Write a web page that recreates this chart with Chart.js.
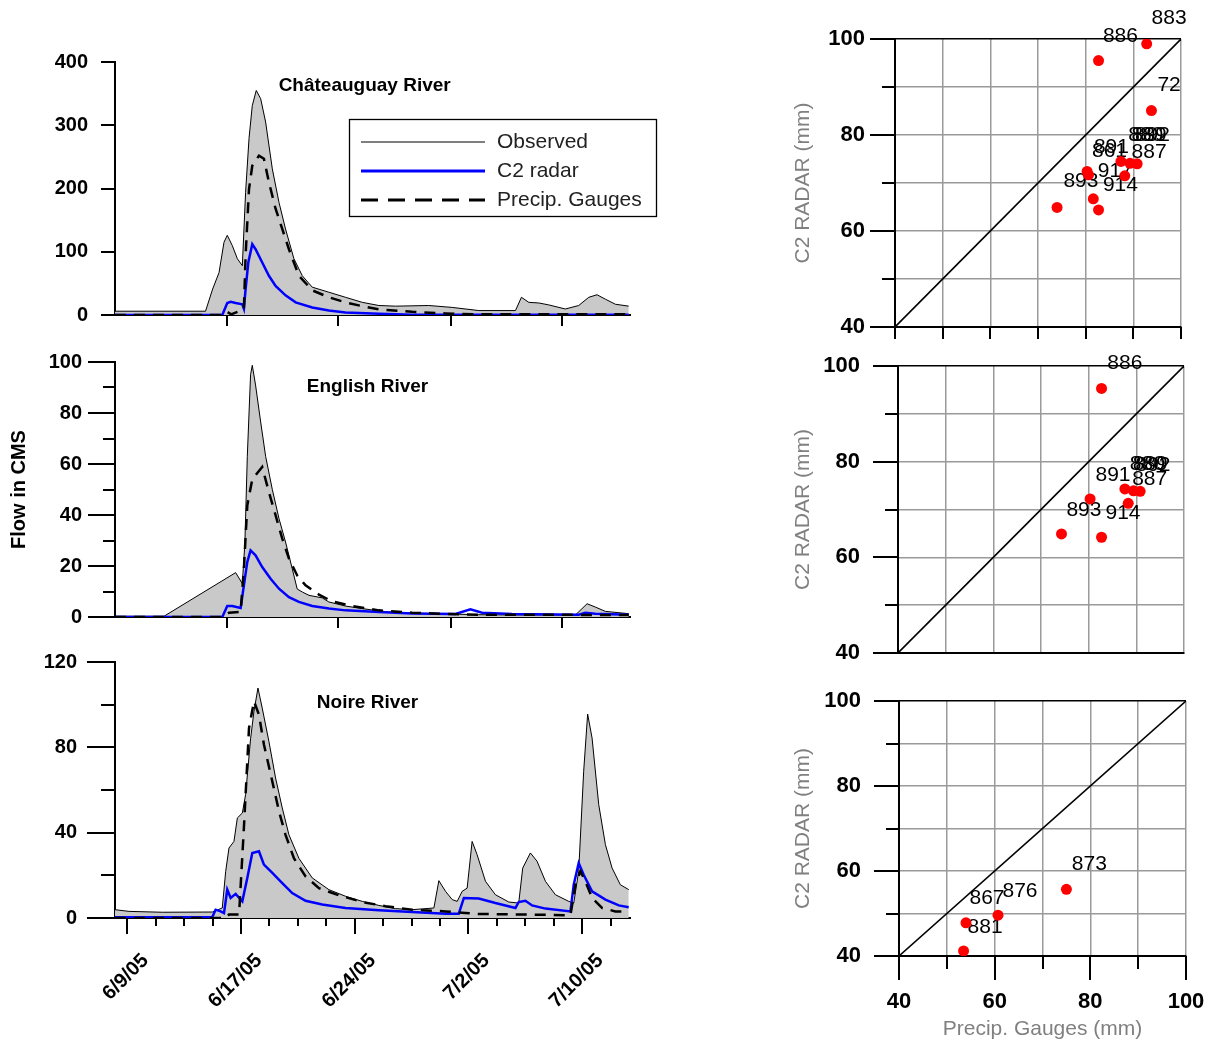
<!DOCTYPE html>
<html><head><meta charset="utf-8">
<script src="https://cdn.jsdelivr.net/npm/chart.js@4.4.1/dist/chart.umd.min.js"></script>
<style>
html,body{margin:0;padding:0;background:#fff;}
body{width:1217px;height:1047px;position:relative;overflow:hidden;}
canvas{position:absolute;}
</style></head><body>
<canvas id="h1" width="680" height="290" style="left:0px;top:40px;width:680px;height:290px"></canvas>
<canvas id="h2" width="680" height="290" style="left:0px;top:340px;width:680px;height:290px"></canvas>
<canvas id="h3" width="680" height="407" style="left:0px;top:640px;width:680px;height:407px"></canvas>
<canvas id="s1" width="437" height="345" style="left:780px;top:0px;width:437px;height:345px"></canvas>
<canvas id="s2" width="437" height="320" style="left:780px;top:345px;width:437px;height:320px"></canvas>
<canvas id="s3" width="437" height="382" style="left:780px;top:665px;width:437px;height:382px"></canvas>
<script>
// ---------------- DATA (days after 6/9/05, flow in CMS) ----------------
const seriesNames = ['Observed', 'C2 radar', 'Precip. Gauges'];
const riverNames = ['Châteauguay River', 'English River', 'Noire River'];
const dateTickVals = [0, 8, 16, 24, 32];
const dateLabels = ['6/9/05', '6/17/05', '6/24/05', '7/2/05', '7/10/05'];
const dateMinorVals = [2, 4, 6, 10, 12, 14, 18, 20, 22, 26, 28, 30, 34];
const topDateTickVals = [7, 14.85, 22.75, 30.6];

// Châteauguay River
const chatObsDays = [-0.87, 5.5, 6.0, 6.45, 6.8, 7.03, 7.38, 7.74, 8.09, 8.32, 8.56, 8.79, 9.07, 9.38, 9.73, 10.2, 10.67, 11.13, 11.72, 12.31, 13.01, 14.18, 15.35, 16.53, 17.7, 18.87, 21.21, 22.86, 24.73, 27.31, 27.73, 28.25, 28.95, 29.65, 30.82, 31.76, 32.47, 33.05, 33.64, 34.34, 35.28];
const chatObs = [6, 6, 41, 67, 115, 126, 110, 89, 78, 194, 279, 331, 355, 342, 305, 231, 178, 136, 89, 62, 44, 36, 28, 20, 15, 14, 15, 12, 7, 7, 28, 20, 19, 16, 9.5, 15, 28, 32, 25, 17, 14];
const chatRadarDays = [-0.87, 6.68, 7.03, 7.27, 7.62, 8.09, 8.2, 8.32, 8.51, 8.79, 9.02, 9.49, 9.96, 10.43, 11.13, 11.84, 13.01, 14.18, 15.35, 17.7, 20.04, 35.28];
const chatRadar = [0, 0, 19, 21, 19, 17, 10, 41, 83, 112, 104, 83, 62, 46, 31, 20, 12, 7, 4, 2, 0.5, 0.5];
const chatGaugeDays = [-0.87, 6.8, 7.03, 7.3, 8.2, 8.32, 8.56, 8.79, 9.26, 9.61, 9.96, 10.43, 10.9, 11.37, 12.07, 13.01, 14.18, 15.35, 16.53, 17.7, 20.04, 22.39, 24.73, 35.28];
const chatGauge = [0, 0, 5, 1, 9, 94, 199, 236, 252, 247, 210, 168, 136, 104, 62, 39, 28, 20, 14, 9, 5, 2.5, 1, 1];

// English River
const engObsDays = [-0.87, 2.58, 7.62, 8.09, 8.27, 8.44, 8.67, 8.79, 9.02, 9.38, 9.73, 10.2, 10.67, 11.13, 11.6, 11.95, 12.31, 12.78, 13.71, 14.18, 15.35, 16.53, 17.7, 18.87, 20.04, 22.39, 24.73, 27.07, 31.53, 32.35, 32.93, 33.64, 35.28];
const engObs = [0.3, 0.3, 17.4, 13.1, 29, 63, 95, 98.7, 91, 76.5, 63, 50, 38.6, 29.4, 19, 11, 9.8, 8.5, 7.5, 5.9, 4.3, 3.3, 2.4, 1.7, 1.6, 1.2, 0.9, 0.8, 0.8, 5.2, 3.9, 2.2, 1.3];
const engRadarDays = [-0.87, 6.68, 7.03, 7.38, 7.97, 8.2, 8.44, 8.67, 9.02, 9.49, 10.08, 10.67, 11.37, 12.07, 13.01, 14.18, 15.35, 17.7, 20.04, 23.09, 24.14, 24.96, 27.07, 31.76, 32.23, 32.93, 35.28];
const engRadar = [0, 0, 4.3, 4.3, 3.5, 12.4, 21.6, 26.1, 24.2, 19.6, 15, 11.1, 7.8, 5.9, 4.3, 3.3, 2.6, 2, 1.4, 1.2, 3, 1.7, 1.2, 0.9, 1.7, 1.3, 0.9];
const engGaugeDays = [-0.87, 6.68, 7.15, 7.97, 8.2, 8.44, 8.79, 9.49, 9.96, 10.43, 10.9, 11.37, 11.95, 12.54, 13.48, 14.42, 15.82, 17.7, 20.04, 22.39, 24.73, 35.28];
const engGauge = [0, 0, 1.7, 2, 19, 43.8, 54, 58.8, 49, 39.9, 30.7, 22.9, 16.3, 12.4, 8.8, 6.1, 4.3, 2.6, 1.7, 1.2, 0.9, 0.8];

// Noire River
const noiObsDays = [-0.87, 0.12, 2.46, 5.98, 6.68, 6.92, 7.15, 7.5, 7.74, 8.09, 8.32, 8.67, 8.91, 9.19, 9.49, 9.96, 10.43, 10.9, 11.37, 12.07, 13.01, 14.18, 15.35, 16.53, 17.7, 18.87, 20.04, 21.57, 21.92, 22.39, 22.86, 23.21, 23.56, 23.91, 24.26, 24.61, 25.2, 25.9, 26.84, 27.54, 27.82, 28.36, 28.83, 29.42, 30.12, 31.06, 31.41, 31.76, 32.11, 32.39, 32.7, 33.17, 33.64, 34.11, 34.69, 35.28];
const noiObs = [3.9, 3.1, 2.7, 2.8, 4.7, 21.9, 32.8, 35.9, 46.9, 49.2, 57.8, 84, 96.9, 107.8, 98.4, 82.8, 65.6, 51.6, 39, 28, 18.8, 13.3, 10.2, 7.8, 5.9, 4.4, 3.9, 4.7, 17.5, 12.5, 8.6, 7.8, 12.5, 14, 35.9, 29.7, 17.2, 10.9, 7.5, 7, 23.4, 30.5, 26.6, 17.2, 10.9, 7.8, 7, 21.9, 68.8, 95.6, 84.4, 53.1, 34.4, 23.4, 15.6, 13.3];
const noiRadarDays = [-0.87, 5.98, 6.21, 6.56, 6.8, 7.03, 7.27, 7.62, 8.09, 8.44, 8.79, 9.26, 9.61, 10.2, 10.9, 11.6, 12.54, 13.71, 15.35, 17.7, 20.04, 22.39, 23.32, 23.68, 24.73, 25.9, 27.31, 27.54, 28.01, 28.48, 29.42, 31.18, 31.41, 31.76, 32.11, 32.7, 33.64, 34.58, 35.28];
const noiRadar = [0.3, 0.5, 3.9, 3.1, 2.3, 13.3, 9.4, 11.3, 7.8, 18.8, 30.5, 31.3, 25, 21.1, 16.4, 11.7, 8.1, 6.3, 4.7, 3.6, 2.8, 2, 2, 9.4, 9.1, 7, 4.7, 7.5, 8.1, 5.9, 4.4, 3.1, 15.6, 25.8, 20.3, 12.5, 8.6, 5.9, 5];
const noiGaugeDays = [-0.87, 6.92, 7.15, 7.86, 8.2, 8.56, 8.91, 9.26, 9.61, 10.2, 10.67, 11.13, 11.72, 12.54, 13.48, 14.89, 16.53, 18.17, 20.04, 22.39, 23.79, 24.73, 28.25, 31.18, 31.53, 31.88, 32.23, 32.7, 33.4, 34.34, 35.28];
const noiGauge = [0, 0, 1.6, 1.6, 42.2, 89, 101.6, 95.3, 81.3, 64, 50, 39, 28, 19.5, 14, 10.6, 7.5, 5.5, 3.9, 3.1, 2.3, 1.9, 1.6, 1.3, 15.6, 21.9, 17.2, 9.4, 4.7, 3.1, 3.1];

// Scatter: gauge vs radar totals (mm)
const oneToOne = [40, 100];
const chatGaugeMm = [92.8, 82.7, 93.8, 87.4, 89.3, 90.8, 80.3, 80.6, 88.2, 81.6, 74.0, 82.7];
const chatRadarMm = [99.0, 95.5, 85.1, 74.5, 74.1, 74.0, 72.4, 71.7, 71.5, 66.7, 64.9, 64.4];
const chatStations = ['883', '886', '72', '861', '891', '880', '889', '892', '887', '917', '893', '914'];
const chatStationX = [97.5, 87.3, 97.5, 85.0, 85.4, 92.6, 93.3, 94.0, 93.3, 86.2, 79.0, 87.3];
const chatStationY = [104.4, 100.6, 90.3, 76.7, 77.5, 80.0, 80.0, 79.9, 76.4, 72.4, 70.3, 69.6];

const engGaugeMm = [82.7, 87.6, 89.4, 90.8, 80.3, 88.3, 74.3, 82.7];
const engRadarMm = [95.3, 74.3, 73.9, 73.8, 72.2, 71.3, 64.9, 64.2];
const engStations = ['886', '880', '889', '892', '891', '887', '893', '914'];
const engStationX = [87.6, 92.3, 92.9, 93.5, 85.1, 92.8, 79.0, 87.2];
const engStationY = [100.6, 79.4, 79.4, 79.3, 77.1, 76.3, 69.9, 69.2];

const noiGaugeMm = [75.0, 60.7, 54.0, 53.5];
const noiRadarMm = [55.7, 49.6, 47.8, 41.2];
const noiStations = ['873', '876', '867', '881'];
const noiStationX = [79.8, 65.3, 58.4, 58.0];
const noiStationY = [61.7, 55.2, 53.5, 46.8];

// ---------------- RENDERING ----------------
const FONT = "'Liberation Sans', Arial, Helvetica, sans-serif";
Chart.defaults.font.family = FONT;
Chart.defaults.color = '#000';
const xy = (xs, ys) => xs.map((x, i) => ({x: x, y: ys[i]}));
const DAY_MIN = -0.87, DAY_MAX = 35.37;

function fixX(h) { return sc => { sc.height = h; sc.paddingLeft = 0; sc.paddingRight = 0; sc.paddingTop = 0; sc.paddingBottom = 0; }; }
function fixY(w) { return sc => { sc.width = w; sc.paddingLeft = 0; sc.paddingRight = 0; sc.paddingTop = 0; sc.paddingBottom = 0; }; }

function tickMarks(o) {
  return {
    id: 'tickMarks',
    afterDraw(chart) {
      const ctx = chart.ctx, a = chart.chartArea, x = chart.scales.x, y = chart.scales.y;
      ctx.save();
      ctx.strokeStyle = '#000'; ctx.lineWidth = 2; ctx.lineCap = 'butt';
      const seg = (x0, y0, x1, y1) => { ctx.beginPath(); ctx.moveTo(x0, y0); ctx.lineTo(x1, y1); ctx.stroke(); };
      (o.yMajor || []).forEach(v => { const p = Math.round(y.getPixelForValue(v)); seg(a.left - o.yMajorLen, p, a.left, p); });
      (o.yMinor || []).forEach(v => { const p = Math.round(y.getPixelForValue(v)); seg(a.left - o.yMinorLen, p, a.left, p); });
      (o.xMajor || []).forEach(v => { const p = Math.round(x.getPixelForValue(v)); seg(p, a.bottom, p, a.bottom + o.xMajorLen); });
      (o.xMinor || []).forEach(v => { const p = Math.round(x.getPixelForValue(v)); seg(p, a.bottom, p, a.bottom + o.xMinorLen); });
      ctx.restore();
    }
  };
}

function drawItems(chart, items) {
  const ctx = chart.ctx, x = chart.scales.x, y = chart.scales.y;
  ctx.save();
  items.forEach(it => {
    ctx.font = it.font; ctx.fillStyle = it.color || '#000';
    ctx.textAlign = 'center'; ctx.textBaseline = 'middle';
    ctx.fillText(it.text, x.getPixelForValue(it.x), y.getPixelForValue(it.y));
  });
  ctx.restore();
}
function texts(under, over) {
  return {
    id: 'texts',
    beforeDatasetsDraw(chart) { drawItems(chart, under || []); },
    afterDraw(chart) { drawItems(chart, over || []); }
  };
}

function boxLegend(o) {
  return {
    id: 'boxLegend',
    afterDraw(chart) {
      const ctx = chart.ctx, a = chart.chartArea;
      const bx = a.left + o.dx, by = a.top + o.dy;
      ctx.save();
      ctx.fillStyle = '#fff'; ctx.fillRect(bx, by, o.w, o.h);
      ctx.strokeStyle = '#000'; ctx.lineWidth = 1.3; ctx.strokeRect(bx + 0.5, by + 0.5, o.w, o.h);
      chart.data.datasets.forEach((ds, i) => {
        const yy = Math.round(by + o.row0 + i * o.rowGap);
        ctx.beginPath();
        ctx.strokeStyle = ds.borderColor;
        ctx.lineWidth = i === 0 ? 1.2 : 3;
        ctx.setLineDash(ds.borderDash ? [17, 10] : []);
        ctx.moveTo(bx + o.line0, yy); ctx.lineTo(bx + o.line1, yy); ctx.stroke();
        ctx.setLineDash([]);
        ctx.fillStyle = '#222'; ctx.font = '21px ' + FONT;
        ctx.textAlign = 'left'; ctx.textBaseline = 'middle';
        ctx.fillText(ds.label, bx + o.text0, yy);
      });
      ctx.restore();
    }
  };
}

function hydro(id, s) {
  const plugins = [tickMarks(s.marks), texts([], [{text: s.title, x: s.titleX, y: s.titleY, font: 'bold 19px ' + FONT}])];
  if (s.legend) plugins.push(boxLegend(s.legend));
  return new Chart(document.getElementById(id), {
    type: 'line',
    data: {datasets: [
      {label: seriesNames[0], data: xy(s.obsX, s.obs), borderColor: '#000', borderWidth: 1, backgroundColor: '#c9c9c9', fill: 'origin', order: 3},
      {label: seriesNames[1], data: xy(s.radX, s.rad), borderColor: '#0000ff', borderWidth: 2.5, fill: false, order: 2},
      {label: seriesNames[2], data: xy(s.gauX, s.gau), borderColor: '#000', borderWidth: 2.5, borderDash: [11, 8], fill: false, order: 1}
    ]},
    options: {
      responsive: false, animation: false, devicePixelRatio: 1,
      layout: {padding: {left: 0, top: s.padTop, right: 50, bottom: 0}},
      elements: {point: {radius: 0, hoverRadius: 0}, line: {tension: 0}},
      plugins: {legend: {display: false}, tooltip: {enabled: false}},
      scales: {
        x: {
          type: 'linear', min: DAY_MIN, max: DAY_MAX,
          grid: {display: false, drawTicks: false},
          border: {display: true, color: '#000', width: 2},
          afterBuildTicks: sc => { sc.ticks = s.xLabels.map(v => ({value: v})); },
          ticks: {display: s.showDates, autoSkip: false, maxRotation: 45, minRotation: 45, padding: 31, labelOffset: 18,
                  font: {size: 20, weight: 'bold'},
                  callback: v => { const k = dateTickVals.indexOf(v); return k >= 0 ? dateLabels[k] : ''; }},
          afterFit: fixX(s.xH)
        },
        y: {
          min: 0, max: s.yMax,
          grid: {display: false, drawTicks: false},
          border: {display: true, color: '#000', width: 2},
          afterBuildTicks: sc => { sc.ticks = s.marks.yMajor.map(v => ({value: v})); },
          ticks: {padding: s.yPad, font: {size: 20, weight: 'bold'}},
          title: s.yTitle ? {display: true, text: s.yTitle, font: {size: 20, weight: 'bold'}, padding: {top: 7, bottom: 0}} : {display: false},
          afterFit: fixY(115)
        }
      }
    },
    plugins: plugins
  });
}

hydro('h1', {
  obsX: chatObsDays, obs: chatObs, radX: chatRadarDays, rad: chatRadar, gauX: chatGaugeDays, gau: chatGauge,
  yMax: 400, padTop: 22, xH: 15, yPad: 27, showDates: false, xLabels: topDateTickVals,
  title: riverNames[0], titleX: 16.7, titleY: 362,
  marks: {yMajor: [0, 100, 200, 300, 400], yMajorLen: 14, xMajor: topDateTickVals, xMajorLen: 11},
  legend: {dx: 234, dy: 57, w: 307, h: 97, line0: 12, line1: 136, text0: 148, row0: 22.5, rowGap: 29.2}
});
hydro('h2', {
  obsX: engObsDays, obs: engObs, radX: engRadarDays, rad: engRadar, gauX: engGaugeDays, gau: engGauge,
  yMax: 100, padTop: 22, xH: 13, yPad: 33, showDates: false, xLabels: topDateTickVals,
  title: riverNames[1], titleX: 16.9, titleY: 90.3, yTitle: 'Flow in CMS',
  marks: {yMajor: [0, 20, 40, 60, 80, 100], yMajorLen: 27, yMinor: [10, 30, 50, 70, 90], yMinorLen: 12, xMajor: topDateTickVals, xMajorLen: 11}
});
hydro('h3', {
  obsX: noiObsDays, obs: noiObs, radX: noiRadarDays, rad: noiRadar, gauX: noiGaugeDays, gau: noiGauge,
  yMax: 120, padTop: 22, xH: 129, yPad: 38, showDates: true, xLabels: dateTickVals,
  title: riverNames[2], titleX: 16.9, titleY: 100.8,
  marks: {yMajor: [0, 40, 80, 120], yMajorLen: 28, yMinor: [20, 60, 100], yMinorLen: 14,
          xMajor: dateTickVals, xMajorLen: 16, xMinor: dateMinorVals, xMinorLen: 8}
});

function scatter(id, s) {
  const labelItems = s.names.map((t, i) => ({text: t, x: s.lx[i], y: s.ly[i], font: '21px ' + FONT}));
  return new Chart(document.getElementById(id), {
    type: 'scatter',
    data: {datasets: [
      {data: xy(oneToOne, oneToOne), showLine: true, borderColor: '#000', borderWidth: 1.6, pointRadius: 0, order: 2},
      {data: xy(s.px, s.py), backgroundColor: '#ff0000', borderColor: '#ff0000', borderWidth: 0, pointRadius: 5.5, order: 1}
    ]},
    options: {
      responsive: false, animation: false, devicePixelRatio: 1,
      layout: {padding: {left: 0, top: s.padTop, right: s.padRight, bottom: 0}},
      plugins: {legend: {display: false}, tooltip: {enabled: false}},
      scales: {
        x: {
          min: 40, max: 100,
          grid: {color: '#9a9a9a', lineWidth: 1.5, drawTicks: false},
          border: {display: true, color: '#000', width: 2},
          ticks: {display: s.showX, stepSize: 10, padding: 33, font: {size: 22, weight: 'bold'},
                  callback: v => (v % 20 === 0 ? String(v) : '')},
          title: s.showX ? {display: true, text: 'Precip. Gauges (mm)', color: '#808080', font: {size: 21}, padding: {top: 0, bottom: 5}} : {display: false},
          afterFit: fixX(s.xH)
        },
        y: {
          min: 40, max: 100,
          grid: {color: c => (c.tick && c.tick.value === 100 ? '#000' : '#9a9a9a'), lineWidth: 1.5, drawTicks: false},
          border: {display: true, color: '#000', width: 2},
          ticks: {stepSize: 10, padding: s.yPad, font: {size: 22, weight: 'bold'},
                  callback: v => (v % 20 === 0 ? String(v) : '')},
          title: {display: true, text: 'C2 RADAR (mm)', color: '#808080', font: {size: 21}, padding: {top: 11, bottom: 0}},
          afterFit: fixY(s.yW)
        }
      }
    },
    plugins: [tickMarks(s.marks), texts(labelItems, [])]
  });
}

const scatYMarks = {yMajor: [40, 60, 80, 100], yMajorLen: 25, yMinor: [50, 70, 90], yMinorLen: 13};
scatter('s1', {px: chatGaugeMm, py: chatRadarMm, names: chatStations, lx: chatStationX, ly: chatStationY,
  padTop: 39, padRight: 36, yW: 115, xH: 18, yPad: 30, showX: false,
  marks: Object.assign({xMajor: [40, 50, 60, 70, 80, 90, 100], xMajorLen: 12}, scatYMarks)});
scatter('s2', {px: engGaugeMm, py: engRadarMm, names: engStations, lx: engStationX, ly: engStationY,
  padTop: 21, padRight: 33, yW: 118, xH: 12, yPad: 38, showX: false,
  marks: Object.assign({}, scatYMarks)});
scatter('s3', {px: noiGaugeMm, py: noiRadarMm, names: noiStations, lx: noiStationX, ly: noiStationY,
  padTop: 36, padRight: 31, yW: 119, xH: 91, yPad: 38, showX: true,
  marks: Object.assign({xMajor: [40, 60, 80, 100], xMajorLen: 24, xMinor: [50, 70, 90], xMinorLen: 13}, scatYMarks)});
</script>
</body></html>
